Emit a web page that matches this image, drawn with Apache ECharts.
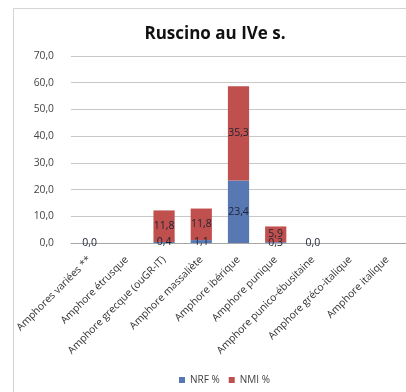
<!DOCTYPE html>
<html><head><meta charset="utf-8">
<script src="https://cdn.jsdelivr.net/npm/echarts@6/dist/echarts.min.js"></script>
<style>html,body{margin:0;padding:0;background:#fff}#c{width:406px;height:392px}</style>
</head><body><div id="c"></div>
<script>
const categories = ["Amphores variées **","Amphore étrusque","Amphore grecque (ouGR-IT)","Amphore massaliète","Amphore ibérique","Amphore punique","Amphore punico-ébusitaine","Amphore gréco-italique","Amphore italique"];
const nrf = [0.0, null, 0.4, 1.1, 23.4, 0.3, 0.0, null, null];
const nmi = [null, null, 11.8, 11.8, 35.3, 5.9, null, null, null];
const seriesNames = ["NRF %", "NMI %"];
const titleText = "Ruscino au IVe s.";
const FONT = "'Open Sans', sans-serif";
const fmt = v => v.toFixed(1).replace('.', ',');
const chart = echarts.init(document.getElementById('c'), null, {renderer:'canvas'});
const lbl = {show:true, position:'inside', color:'#1e2233', fontSize:10.5, fontFamily:FONT,
  formatter: p => (p.value == null ? '' : fmt(p.value))};
chart.setOption({
  animation:false,
  textStyle:{fontFamily:FONT},
  graphic:[
    {type:'rect', shape:{x:13.5,y:8.5,width:500,height:500}, style:{fill:'none', stroke:'#d4d4d4', lineWidth:1}},
    {type:'text', x:215, y:34, style:{text:titleText, font:"bold 17px 'Open Sans', sans-serif", fill:'#111', textAlign:'center', textVerticalAlign:'middle'}}
  ],
  grid:{left:71, right:0, top:56, bottom:149},
  legend:{top:370, left:174, itemWidth:6, itemHeight:6, icon:'rect', itemGap:9,
    textStyle:{fontSize:10, color:'#404040', fontFamily:FONT}},
  xAxis:{type:'category', data:categories,
    axisLine:{lineStyle:{color:'#a6a6a6'}}, axisTick:{show:false},
    axisLabel:{rotate:45, interval:0, fontSize:10.3, color:'#333', margin:15, fontFamily:FONT}},
  yAxis:{type:'value', min:0, max:70, interval:10,
    axisLine:{show:false}, axisTick:{show:false},
    splitLine:{lineStyle:{color:'#c8c8c8'}},
    axisLabel:{formatter:v=>fmt(v), fontSize:10.3, color:'#444', margin:17, fontFamily:FONT}},
  series:[
    {name:seriesNames[0], type:'bar', stack:'t', data:nrf, barWidth:'57%', itemStyle:{color:'#5878b4'}, label:lbl},
    {name:seriesNames[1], type:'bar', stack:'t', data:nmi, barWidth:'57%', itemStyle:{color:'#c0504d'}, label:lbl}
  ]
});
</script></body></html>
